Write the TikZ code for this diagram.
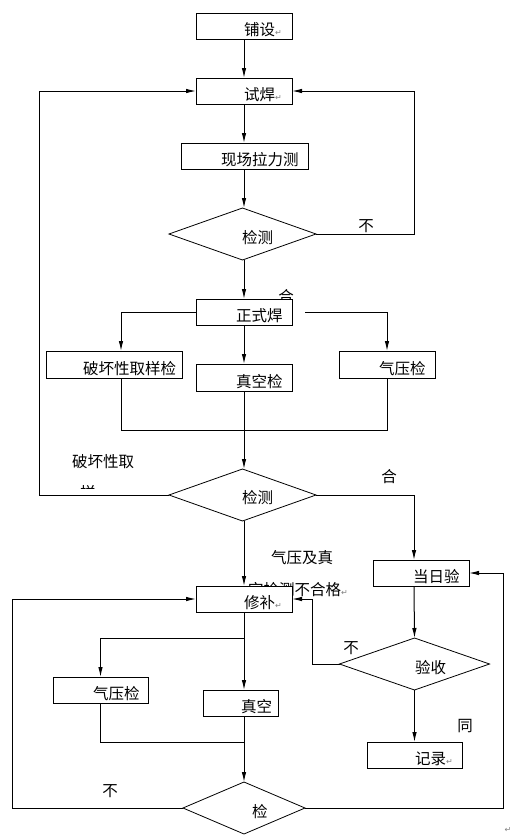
\documentclass[tikz,border=0pt]{standalone}
\usepackage{fontspec}
\newfontfamily\cjk{Noto Sans CJK SC}
\newfontfamily\dv{DejaVu Sans}
\usetikzlibrary{arrows.meta,shapes.geometric}
\begin{document}
\begin{tikzpicture}[x=1pt,y=-1pt,
  box/.style={draw, fill=white, inner sep=0pt, outer sep=0pt, line width=1pt},
  dia/.style={draw, diamond, fill=white, inner sep=0pt, outer sep=0pt, line width=0.8pt},
  txt/.style={anchor=west, inner sep=0pt, font=\cjk\fontsize{15.5}{18}\selectfont},
  lbl/.style={inner sep=0pt, font=\cjk\fontsize{15.5}{18}\selectfont},
  conn/.style={line width=1pt},
  arr/.style={conn, -{Latex[length=10pt,width=4.5pt]}},
  ret/.style={font=\dv\fontsize{8}{8}\selectfont, text=gray}]
\useasboundingbox (0,0) rectangle (517,836);
% texts partly hidden behind boxes
\node[lbl] (he1) at (286,297) {合};
\node[txt] (kj) at (248,590) {空检测不合格{\dv\fontsize{8}{8}\selectfont\color{gray}↵}};
\node[lbl] (qy) at (302,558) {气压及真};
\begin{scope}
  \clip (60,440) rectangle (200,488);
  \node[txt] (pq) at (72,462) {破坏性取};
  \node[txt] (pq2) at (80,493) {样};
\end{scope}
% boxes
\node[box, minimum width=96, minimum height=26] (pushe) at (244,26) {};
\node[box, minimum width=96, minimum height=26] (shihan) at (244,91) {};
\node[box, minimum width=127, minimum height=26] (xc) at (244.5,156) {};
\node[dia, minimum width=147, minimum height=52] (d1) at (242.5,234) {};
\node[box, minimum width=96, minimum height=26] (zsh) at (244,312) {};
\node[box, minimum width=136, minimum height=27] (ph) at (114,364.5) {};
\node[box, minimum width=96, minimum height=27] (zkj) at (244,377.5) {};
\node[box, minimum width=96, minimum height=27] (qyj) at (387,364.5) {};
\node[dia, minimum width=147, minimum height=52] (d2) at (242.5,495) {};
\node[box, minimum width=96, minimum height=26] (dry) at (421,573) {};
\node[box, minimum width=96, minimum height=26] (xb) at (244,599) {};
\node[box, minimum width=95, minimum height=26] (qyj2) at (100.5,690) {};
\node[box, minimum width=75, minimum height=26] (zk2) at (240.5,703) {};
\node[dia, minimum width=122, minimum height=52] (d3) at (244,808) {};
\node[dia, minimum width=150, minimum height=52] (ys) at (414.5,664) {};
\node[box, minimum width=95, minimum height=26] (jl) at (414.5,755) {};
% box texts
\node[txt] (t1) at (244,30) {铺设{\dv\fontsize{8}{8}\selectfont\color{gray}↵}};
\node[txt] (t2) at (244,95) {试焊{\dv\fontsize{8}{8}\selectfont\color{gray}↵}};
\node[txt] (t3) at (221,160) {现场拉力测};
\node[txt] (t4) at (242,238) {检测};
\node[txt] (t5) at (236,316) {正式焊};
\node[txt] (t6) at (83,369) {破坏性取样检};
\node[txt] (t7) at (236,382) {真空检};
\node[txt] (t8) at (379,369) {气压检};
\node[txt] (t9) at (242,498) {检测};
\node[txt] (t10) at (413,577) {当日验};
\node[txt] (t11) at (244,603) {修补{\dv\fontsize{8}{8}\selectfont\color{gray}↵}};
\node[txt] (t12) at (93,694) {气压检};
\node[txt] (t13) at (241,707) {真空};
\node[txt] (t14) at (252,812) {检};
\node[txt] (t15) at (415,668) {验收};
\node[txt] (t16) at (415,759) {记录{\dv\fontsize{8}{8}\selectfont\color{gray}↵}};
% labels
\node[lbl] (bu1) at (366,226) {不};
\node[lbl] (he2) at (389,477) {合};
\node[lbl] (bu2) at (351,648) {不};
\node[lbl] (tong) at (465,726) {同};
\node[lbl] (bu3) at (110,791) {不};
\node[ret] (endmark) at (508,830) {↵};
% coordinates
\coordinate (r1) at (414,234);
\coordinate (l1) at (39,495);
\coordinate (j1) at (121,430);
\coordinate (j2) at (244,638);
\coordinate (j3) at (244,742);
\coordinate (l2) at (12,808);
\coordinate (r2) at (503,808);
\coordinate (r3) at (312,664);
% connectors
\draw[arr] (pushe.south) -- (shihan.north);
\draw[arr] (shihan.south) -- (xc.north -| shihan.south);
\draw[arr] (xc.south -| shihan.south) -- (d1.north -| shihan.south);
\draw[arr] (d1.east) -- (r1) |- (shihan.east);
\draw[arr] (d2.west) -- (l1) |- (shihan.west);
\draw[arr] (d1.south -| shihan.south) -- (zsh.north);
\draw[arr] (zsh.west) -| ([xshift=7pt]ph.north);
\draw[arr] ([xshift=13pt]zsh.east) -| (qyj.north);
\draw[arr] (zsh.south) -- (zkj.north);
\draw[conn] ([xshift=7pt]ph.south) -- (j1) -| (qyj.south);
\draw[arr] (zkj.south) -- (d2.north -| zkj.south);
\draw[arr] (d2.east) -| ([xshift=-7pt]dry.north);
\draw[arr] (d2.south -| zkj.south) -- (xb.north);
\draw[arr] (d3.west) -- (l2) |- (xb.west);
\draw[conn] (xb.south) -- (j2);
\draw[arr] (j2) -| (qyj2.north);
\draw[arr] (j2) -- (zk2.north -| j2);
\draw[conn] (qyj2.south) |- (j3);
\draw[arr] (zk2.south -| j2) -- (d3.north);
\draw[arr] (d3.east) -- (r2) |- (dry.east);
\draw[arr] ([xshift=-7pt]dry.south) -- (ys.north);
\draw[arr] (ys.west) -- (r3) |- (xb.east);
\draw[arr] (ys.south) -- (jl.north);
\end{tikzpicture}
\end{document}
